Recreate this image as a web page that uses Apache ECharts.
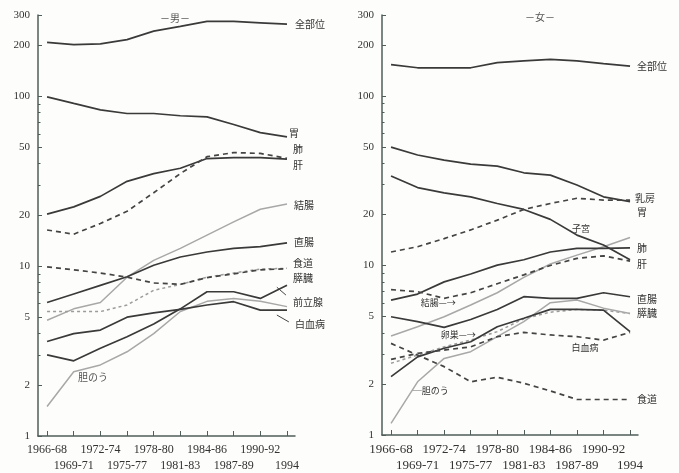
<!DOCTYPE html>
<html>
<head>
<meta charset="utf-8">
<script src="https://cdn.jsdelivr.net/npm/echarts@6/dist/echarts.min.js"></script>
<style>
  html, body { margin: 0; padding: 0; background: #fdfdfb; }
  #chart { width: 679px; height: 473px; }
</style>
</head>
<body>
<div id="chart"></div>
<script>
// 期間（横軸）
var periods = ['1966-68', '1969-71', '1972-74', '1975-77', '1978-80', '1981-83', '1984-86', '1987-89', '1990-92', '1994'];
// 縦軸目盛（対数）
var yTicks = [1, 2, 5, 10, 20, 50, 100, 200, 300];
var yMinor = [3, 4, 6, 7, 8, 9, 30, 40, 60, 70, 80, 90];

// 男
var mAll      = [207, 201, 203, 215, 241, 257, 275, 275, 270, 265];
var mStomach  = [99, 90.6, 83, 79, 79, 76.6, 75.5, 68, 61, 57.6];
var mLung     = [20.2, 22.3, 25.7, 31.5, 35, 37.6, 42.9, 43.5, 43.5, 42.6];
var mLiver    = [16.3, 15.4, 17.8, 21, 27, 35, 44, 46.5, 46, 43];
var mColon    = [4.8, 5.6, 6.1, 8.6, 10.8, 12.7, 15.2, 18.2, 21.6, 23.2];
var mRectum   = [6.1, 6.85, 7.7, 8.65, 10.1, 11.3, 12.1, 12.7, 13.0, 13.7];
var mEsoph    = [9.9, 9.5, 9.1, 8.6, 7.95, 7.8, 8.55, 9.0, 9.5, 9.65];
var mPancreas = [5.4, 5.4, 5.4, 5.9, 7.2, 7.8, 8.6, 9.1, 9.6, 9.7];
var mProstate = [3.0, 2.77, 3.28, 3.84, 4.56, 5.6, 7.06, 7.06, 6.45, 7.7];
var mLeuk     = [3.6, 4.0, 4.2, 5.0, 5.3, 5.56, 5.9, 6.17, 5.5, 5.5];
var mGall     = [1.49, 2.39, 2.62, 3.13, 4.0, 5.4, 6.2, 6.45, 6.2, 5.77];

// 女
var fAll      = [153, 146.5, 146.5, 146.5, 157, 161, 164, 161, 155, 150];
var fStomach  = [49.9, 44.8, 41.8, 39.6, 38.5, 35.2, 34.1, 29.8, 25.4, 23.8];
var fUterus   = [33.7, 28.8, 26.8, 25.4, 23.2, 21.4, 18.7, 15.1, 13.2, 10.8];
var fBreast   = [12.0, 12.9, 14.4, 16.2, 18.5, 21.4, 23.2, 24.9, 24.3, 24.3];
var fLung     = [6.25, 6.78, 8.0, 8.9, 10.05, 10.8, 12.0, 12.6, 12.6, 12.7];
var fLiver    = [7.2, 7.0, 6.4, 6.9, 7.8, 8.8, 10.0, 11.0, 11.4, 10.6];
var fColon    = [3.84, 4.35, 4.98, 5.84, 6.9, 8.5, 10.2, 11.5, 12.9, 14.6];
var fRectum   = [4.98, 4.66, 4.31, 4.8, 5.5, 6.54, 6.4, 6.4, 6.9, 6.54];
var fPancreas = [2.65, 2.96, 3.31, 3.63, 4.07, 4.85, 5.3, 5.5, 5.45, 5.2];
var fOvary    = [2.21, 2.89, 3.25, 3.55, 4.35, 4.88, 5.51, 5.51, 5.45, 4.07];
var fLeuk     = [2.79, 3.03, 3.17, 3.31, 3.8, 4.03, 3.89, 3.8, 3.63, 4.03];
var fEsoph    = [3.47, 2.96, 2.53, 2.06, 2.19, 2.02, 1.82, 1.62, 1.62, 1.62];
var fGall     = [1.17, 2.06, 2.83, 3.1, 3.8, 4.66, 6.03, 6.25, 5.6, 5.2];

var chart = echarts.init(document.getElementById('chart'));

var AXIS = '#4f5e5b';
var TXT = '#333';
var CJK = '"Noto Sans CJK JP", sans-serif';
var NUM = '"Liberation Serif", serif';
var idx = periods.map(function (p, i) { return i; });
var evenIdx = idx.filter(function (i) { return i % 2 === 0; });
var oddIdx = idx.filter(function (i) { return i % 2 === 1; });

var styles = {
  solid: { color: '#3a3a3a', width: 1.7, type: 'solid' },
  gray:  { color: '#a8a8a8', width: 1.5, type: 'solid' },
  dash:  { color: '#444', width: 1.7, type: [5, 4] },
  gdash: { color: '#9c9c9c', width: 1.5, type: [3, 3] }
};

// 系列を作る
function line(gi, name, vals, st, end, note) {
  var s = {
    name: name,
    type: 'line',
    xAxisIndex: gi * 2,
    yAxisIndex: gi * 2,
    data: vals.map(function (v, i) { return [i, v]; }),
    symbol: 'none',
    lineStyle: styles[st],
    itemStyle: { color: styles[st].color },
    silent: true,
    z: st === 'gray' || st === 'gdash' ? 2 : 3
  };
  if (end) {
    s.endLabel = {
      show: true, formatter: name, distance: end[0], offset: [0, end[1]],
      color: TXT, fontSize: 10, fontFamily: CJK
    };
  }
  if (note) {
    s.markPoint = {
      symbol: 'circle', symbolSize: 0, silent: true,
      data: [{ coord: note.at }],
      label: {
        show: true, formatter: note.text, position: note.pos, distance: note.d || 0,
        offset: note.off || [0, 0], color: note.color || TXT, fontSize: note.size || 9, fontFamily: CJK
      }
    };
  }
  if (note && note.lead) {
    s.markLine = {
      symbol: ['none', 'none'], silent: true,
      lineStyle: { color: '#444', width: 1, type: 'solid' },
      label: { show: false },
      data: [[{ coord: note.lead[0] }, { coord: note.lead[1] }]]
    };
  }
  return s;
}

// 横軸：偶数番目は上段、奇数番目は下段
function xAxesFor(gi, fs) {
  var fmt = function (v) { return periods[Math.round(v)]; };
  return [{
    type: 'value', gridIndex: gi, min: -0.34, max: 9.3,
    splitLine: { show: false },
    axisLine: { show: true, onZero: false, lineStyle: { color: AXIS, width: 1.5 } },
    axisTick: { show: true, inside: true, length: 5, customValues: idx, lineStyle: { color: AXIS } },
    axisLabel: {
      customValues: evenIdx, margin: 8, color: TXT, fontSize: fs, fontFamily: NUM,
      showMinLabel: true, showMaxLabel: true, formatter: fmt
    }
  }, {
    type: 'value', gridIndex: gi, min: -0.34, max: 9.3, position: 'bottom',
    splitLine: { show: false },
    axisLine: { show: false, onZero: false },
    axisTick: { show: false },
    axisLabel: {
      customValues: oddIdx, margin: 24, color: TXT, fontSize: fs, fontFamily: NUM,
      showMinLabel: true, showMaxLabel: true, formatter: fmt
    }
  }];
}

function yAxesFor(gi) {
  return [{
    type: 'log', logBase: 10, gridIndex: gi, min: 1, max: 300,
    splitLine: { show: false },
    axisLine: { show: true, onZero: false, lineStyle: { color: AXIS, width: 1.5 } },
    axisTick: { show: true, inside: true, length: 4, customValues: yTicks, lineStyle: { color: AXIS } },
    axisLabel: { customValues: yTicks, margin: 8, color: TXT, fontSize: 11, fontFamily: NUM, showMinLabel: true, showMaxLabel: true }
  }, {
    type: 'log', logBase: 10, gridIndex: gi, min: 1, max: 300, position: 'left',
    splitLine: { show: false },
    axisLine: { show: false, onZero: false },
    axisTick: { show: true, inside: true, length: 2.5, customValues: yMinor, lineStyle: { color: AXIS } },
    axisLabel: { show: false }
  }];
}

var series = [
  // 男
  line(0, '全部位', mAll, 'solid', [8, 0]),
  line(0, '胃', mStomach, 'solid', [2, -4]),
  line(0, '肺', mLung, 'solid', [6, -10]),
  line(0, '肝', mLiver, 'dash', [6, 7]),
  line(0, '結腸', mColon, 'gray', [7, 1]),
  line(0, '直腸', mRectum, 'solid', [7, -1]),
  line(0, '食道', mEsoph, 'dash', [6, -5]),
  line(0, '膵臓', mPancreas, 'gdash', [6, 10]),
  line(0, '前立腺', mProstate, 'solid', [6, 17], { at: [8.62, 7.5], text: '', pos: 'right', lead: [[8.62, 7.5], [8.96, 6.75]] }),
  line(0, '白血病', mLeuk, 'solid', [8, 14], { at: [8.62, 5.15], text: '', pos: 'right', lead: [[8.62, 5.15], [9.07, 4.69]] }),
  line(0, '胆のう', mGall, 'gray', null, { at: [1.16, 2.22], text: '胆のう', pos: 'right', size: 10, color: '#555' }),
  // 女
  line(1, '全部位', fAll, 'solid', [7, 0]),
  line(1, '胃', fStomach, 'solid', [7, 11]),
  line(1, '子宮', fUterus, 'solid', null, { at: [7, 15.1], text: '子宮', pos: 'top', d: 2, off: [4, 0] }),
  line(1, '乳房', fBreast, 'dash', [5, -2]),
  line(1, '肺', fLung, 'solid', [7, 0]),
  line(1, '肝', fLiver, 'dash', [7, 3]),
  line(1, '結腸', fColon, 'gray', null, { at: [2.44, 6.0], text: '結腸—→', pos: 'left' }),
  line(1, '直腸', fRectum, 'solid', [7, 2]),
  line(1, '膵臓', fPancreas, 'gdash', [7, 0]),
  line(1, '卵巣', fOvary, 'solid', null, { at: [3.19, 3.89], text: '卵巣—→', pos: 'left' }),
  line(1, '白血病', fLeuk, 'dash', null, { at: [7, 3.8], text: '白血病', pos: 'bottom', d: 6, off: [8, 0] }),
  line(1, '食道', fEsoph, 'dash', [7, 0]),
  line(1, '胆のう', fGall, 'gray', null, { at: [0.82, 1.84], text: '─胆のう', pos: 'right' })
];

var option = {
  backgroundColor: '#fdfdfb',
  animation: false,
  title: [
    { text: '－男－', left: 170, top: 8, textAlign: 'center', textStyle: { fontSize: 10, fontWeight: 'normal', color: '#555', fontFamily: CJK } },
    { text: '－女－', left: 535, top: 7, textAlign: 'center', textStyle: { fontSize: 10, fontWeight: 'normal', color: '#555', fontFamily: CJK } }
  ],
  grid: [
    { left: 38, top: 15, width: 257, height: 421 },
    { left: 382, top: 15, width: 256, height: 420 }
  ],
  xAxis: xAxesFor(0, 12).concat(xAxesFor(1, 13)),
  yAxis: yAxesFor(0).concat(yAxesFor(1)),
  series: series
};

chart.setOption(option);
</script>
</body>
</html>
